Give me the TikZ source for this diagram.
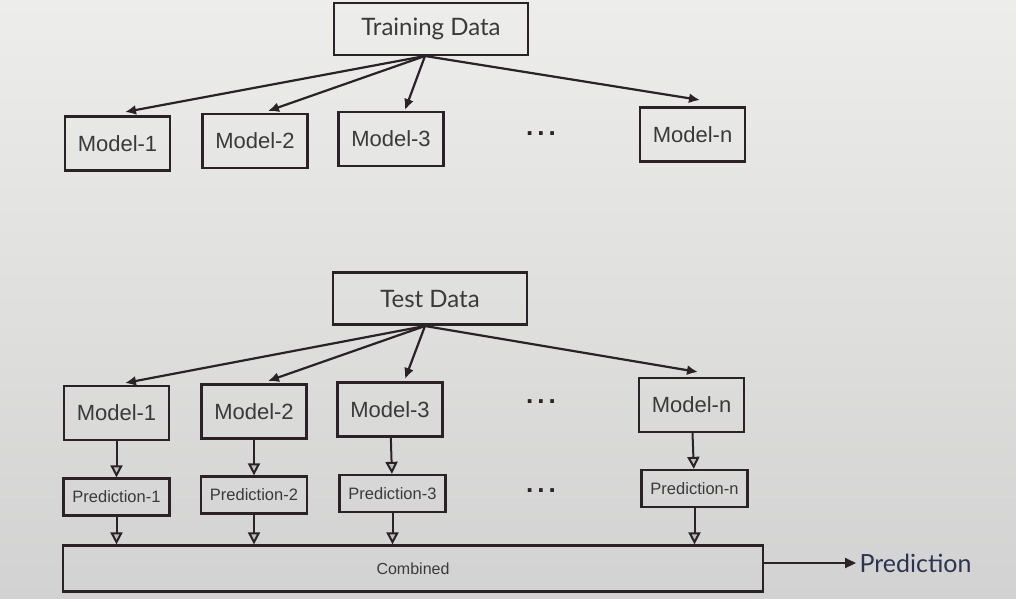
\documentclass[tikz,border=0pt]{standalone}
\usepackage{fontspec}
\setmainfont{Liberation Sans}
\newfontfamily\gill{Lato}
\usetikzlibrary{arrows.meta,calc}
\definecolor{bgtop}{HTML}{EDEDEB}
\definecolor{bgmid}{HTML}{E8E8E6}
\definecolor{bgbot}{HTML}{D2D2D2}
\definecolor{ink}{HTML}{2A2226}
\definecolor{txt}{HTML}{3A3A3A}
\definecolor{predblue}{HTML}{2B3550}
\tikzset{
  databox/.style={draw=ink, line width=2.3pt, inner sep=0pt, minimum width=194pt, minimum height=52pt, font=\gill\fontsize{24}{28}\selectfont, text=txt},
  modelbox/.style={draw=ink, line width=2.3pt, inner sep=0pt, minimum width=105pt, minimum height=54pt, font=\fontsize{22}{26}\selectfont, text=txt},
  predbox/.style={draw=ink, line width=2.3pt, inner sep=0pt, minimum width=106pt, minimum height=37pt, font=\fontsize{16.5}{19}\selectfont, text=txt},
  fan/.style={draw=ink, line width=2.2pt, -{Latex[length=11pt,width=10pt]}},
  down/.style={draw=ink, line width=2pt, -{Triangle[open,length=12pt,width=12pt,fill=gray!50]}},
  dots/.style={font=\bfseries\fontsize{26}{28}\selectfont, text=ink},
}
\begin{document}
\begin{tikzpicture}[x=1pt,y=-1pt]
\useasboundingbox (0,0) rectangle (1016,598);
\shade[top color=bgtop, middle color=bgmid, bottom color=bgbot] (0,0) rectangle (1016,598);
% top section
\node[databox] (td) at (431,29) {Training Data};
\node[modelbox] (m1) at (117.5,143.5) {Model-1};
\node[modelbox] (m2) at (255,141) {Model-2};
\node[modelbox] (m3) at (391,139) {Model-3};
\node[dots] (d1) at (541,134) {.\hspace{4pt}.\hspace{4pt}.};
\node[modelbox] (mn) at (692.5,134.5) {Model-n};
\coordinate (tdo) at (425,56);
\coordinate (e1) at (125,112);
\coordinate (e2) at (268,111);
\coordinate (e3) at (405,110);
\coordinate (en) at (700,100);
\draw[fan] (tdo) -- (e1);
\draw[fan] (tdo) -- (e2);
\draw[fan] (tdo) -- (e3);
\draw[fan] (tdo) -- (en);
% bottom section
\node[databox] (ted) at (430,298.5) {Test Data};
\node[modelbox] (b1) at (116.5,413) {Model-1};
\node[modelbox] (b2) at (254,411.5) {Model-2};
\node[modelbox] (b3) at (390,409.5) {Model-3};
\node[dots] (d2) at (541,402) {.\hspace{4pt}.\hspace{4pt}.};
\node[modelbox] (bn) at (691.5,405) {Model-n};
\coordinate (teo) at (425,326);
\coordinate (f1) at (125,383);
\coordinate (f2) at (268,381);
\coordinate (f3) at (405,379);
\coordinate (fn) at (698,372);
\draw[fan] (teo) -- (f1);
\draw[fan] (teo) -- (f2);
\draw[fan] (teo) -- (f3);
\draw[fan] (teo) -- (fn);
\node[predbox] (p1) at (116.5,497) {Prediction-1};
\node[predbox] (p2) at (254,495) {Prediction-2};
\node[predbox] (p3) at (392.5,493.5) {Prediction-3};
\node[dots] (d3) at (541,491) {.\hspace{4pt}.\hspace{4pt}.};
\node[predbox] (pn) at (694.5,488.5) {Prediction-n};
\draw[down] (b1) -- (p1);
\draw[down] (b2) -- (p2);
\draw[down] (b3) -- (p3);
\draw[down] (bn) -- (pn);
\node[draw=ink, line width=2.3pt, inner sep=0pt, minimum width=700pt, minimum height=46pt, font=\fontsize{16}{19}\selectfont, text=txt] (comb) at (413,568.5) {Combined};
\draw[down] (p1) -- (p1 |- comb.north);
\draw[down] (p2) -- (p2 |- comb.north);
\draw[down] (p3) -- (p3 |- comb.north);
\draw[down] (pn) -- (pn |- comb.north);
\node[font=\gill\fontsize{25}{28}\selectfont, text=predblue, anchor=west] (pred) at (856,563) {Prediction};
\draw[draw=ink, line width=2pt, -{Triangle[length=11pt,width=10pt]}] (comb.east |- pred.west) -- (pred.west);
\end{tikzpicture}
\end{document}
